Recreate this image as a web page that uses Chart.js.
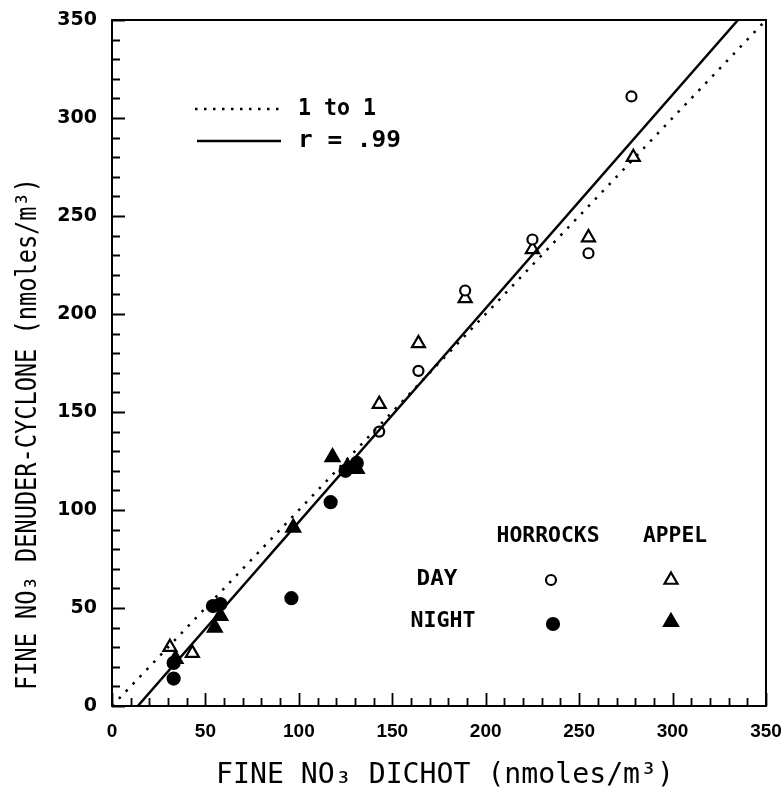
<!DOCTYPE html>
<html>
<head>
<meta charset="utf-8">
<script src="https://cdn.jsdelivr.net/npm/chart.js@4"></script>
<style>
  html, body { margin: 0; padding: 0; background: #fff; }
  #wrap { width: 781px; height: 798px; }
</style>
</head>
<body>
<div id="wrap"><canvas id="chart-no3" width="781" height="798"></canvas></div>
<script>
// ── Data (nmoles/m³) ─────────────────────────────────────────────────────────
const dayHorrocks   = [[143, 140], [164, 171], [189, 212], [225, 238], [255, 231], [278, 311]];
const dayAppel      = [[31, 30], [43, 27], [143, 154], [164, 185], [189, 208], [225, 233], [255, 239], [279, 280]];
const nightHorrocks = [[33, 14], [33, 22], [54, 51], [58, 52], [96, 55], [117, 104], [125, 120], [131, 124]];
const nightAppel    = [[34, 24], [55, 40], [58, 46], [97, 91], [118, 127], [126, 122], [131, 121]];

const oneToOneX = [0, 350];
const oneToOneY = [0, 350];
const fitX      = [13.8, 335];
const fitY      = [0, 350];

const axisMin   = 0;
const axisMax   = 350;
const minorStep = 10;
const majorStep = 50;

const xTitle = 'FINE NO₃ DICHOT (nmoles/m³)';
const yTitle = 'FINE NO₃ DENUDER-CYCLONE (nmoles/m³)';

const toPts = arr => arr.map(([x, y]) => ({ x, y }));
const zipPts = (xs, ys) => xs.map((x, i) => ({ x, y: ys[i] }));

// text helper: optionally squeeze horizontally to a target width
function drawText(ctx, text, x, y, font, align, targetW) {
  ctx.save();
  ctx.font = font;
  ctx.textBaseline = 'middle';
  ctx.textAlign = 'left';
  const w = ctx.measureText(text).width;
  const sx = targetW ? targetW / w : 1;
  let left = x;
  if (align === 'center') left = x - (w * sx) / 2;
  ctx.translate(left, y);
  ctx.scale(sx, 1);
  ctx.fillText(text, 0, 0);
  ctx.restore();
}

// inward ticks, frame, titles and the in-plot keys
const decorations = {
  id: 'decorations',
  afterDraw(chart) {
    const { ctx, chartArea: a, scales: { x, y } } = chart;
    ctx.save();
    ctx.strokeStyle = '#000';
    ctx.fillStyle = '#000';
    ctx.lineWidth = 2;
    ctx.strokeRect(a.left, a.top, a.right - a.left, a.bottom - a.top);

    ctx.lineWidth = 1.8;
    ctx.beginPath();
    for (let v = axisMin; v <= axisMax; v += minorStep) {
      const len = v % majorStep === 0 ? 13 : 8;
      const px = Math.round(x.getPixelForValue(v)) + 0.5;
      ctx.moveTo(px, a.bottom);
      ctx.lineTo(px, a.bottom - len);
      const py = Math.round(y.getPixelForValue(v)) + 0.5;
      ctx.moveTo(a.left, py);
      ctx.lineTo(a.left + len, py);
    }
    ctx.stroke();

    // axis titles
    drawText(ctx, xTitle, 445, 776, '28px "DejaVu Sans Mono"', 'center', 458);
    ctx.save();
    ctx.translate(29, 434);
    ctx.rotate(-Math.PI / 2);
    drawText(ctx, yTitle, 0, 0, '28px "DejaVu Sans Mono"', 'center', 512);
    ctx.restore();

    // line key
    ctx.lineWidth = 2.5;
    ctx.setLineDash([2.5, 6.5]);
    ctx.beginPath();
    ctx.moveTo(195, 109);
    ctx.lineTo(280, 109);
    ctx.stroke();
    ctx.setLineDash([]);
    ctx.lineWidth = 2.5;
    ctx.beginPath();
    ctx.moveTo(197, 141);
    ctx.lineTo(281, 141);
    ctx.stroke();
    drawText(ctx, '1 to 1', 298, 109, 'bold 23px "DejaVu Sans Mono"', 'left', 78);
    drawText(ctx, 'r = .99', 298, 141, 'bold 23px "DejaVu Sans Mono"', 'left', 103);

    // symbol key
    const keyFont = 'bold 21px "DejaVu Sans Mono"';
    drawText(ctx, 'HORROCKS', 548, 537, keyFont, 'center', 103);
    drawText(ctx, 'APPEL', 675, 537, keyFont, 'center', 64);
    drawText(ctx, 'DAY', 437, 580, keyFont, 'center', 41);
    drawText(ctx, 'NIGHT', 443, 622, keyFont, 'center', 65);

    const keys = [
      { style: 'circle',   r: 5,   fill: '#fff', x: 551, y: 580 },
      { style: 'triangle', r: 7.5, fill: '#fff', x: 671, y: 580 },
      { style: 'circle',   r: 6,   fill: '#000', x: 553, y: 624 },
      { style: 'triangle', r: 8,   fill: '#000', x: 671, y: 622 },
    ];
    keys.forEach(k => {
      ctx.fillStyle = k.fill;
      ctx.strokeStyle = '#000';
      ctx.lineWidth = 2.2;
      Chart.helpers.drawPoint(ctx, { pointStyle: k.style, radius: k.r, borderWidth: 2.2 }, k.x, k.y);
    });
    ctx.restore();
  },
};

const pointSet = (label, pts, style, r, fill) => ({
  label,
  data: toPts(pts),
  pointStyle: style,
  pointRadius: r,
  pointHoverRadius: r,
  pointBackgroundColor: fill,
  pointBorderColor: '#000',
  pointBorderWidth: 2.2,
  showLine: false,
});

new Chart(document.getElementById('chart-no3'), {
  type: 'scatter',
  data: {
    datasets: [
      {
        label: '1 to 1',
        data: zipPts(oneToOneX, oneToOneY),
        showLine: true,
        borderColor: '#000',
        borderWidth: 2.5,
        borderDash: [2.5, 7.5],
        pointRadius: 0,
        fill: false,
      },
      {
        label: 'r = .99',
        data: zipPts(fitX, fitY),
        showLine: true,
        borderColor: '#000',
        borderWidth: 2.5,
        pointRadius: 0,
        fill: false,
      },
      pointSet('Horrocks day',   dayHorrocks,   'circle',   5,   '#fff'),
      pointSet('Appel day',      dayAppel,      'triangle', 7.5, '#fff'),
      pointSet('Horrocks night', nightHorrocks, 'circle',   6,   '#000'),
      pointSet('Appel night',    nightAppel,    'triangle', 8,   '#000'),
    ],
  },
  options: {
    responsive: false,
    animation: false,
    layout: { padding: { left: 0, right: 15, top: 20, bottom: 0 } },
    plugins: {
      legend: { display: false },
      tooltip: { enabled: false },
    },
    scales: {
      x: {
        type: 'linear',
        min: axisMin,
        max: axisMax,
        grid: { display: false },
        border: { display: true, color: '#000', width: 2 },
        ticks: {
          stepSize: majorStep,
          color: '#000',
          padding: 6,
          maxRotation: 0,
          font: { family: 'Liberation Sans', weight: 'bold', size: 19 },
        },
        afterFit: s => { s.height = 92; s.paddingLeft = 0; s.paddingRight = 0; },
      },
      y: {
        type: 'linear',
        min: axisMin,
        max: axisMax,
        grid: { display: false },
        border: { display: true, color: '#000', width: 2 },
        ticks: {
          stepSize: majorStep,
          color: '#000',
          padding: 7,
          font: { family: 'DejaVu Sans', weight: 'bold', size: 19 },
        },
        afterFit: s => { s.width = 112; s.paddingTop = 0; s.paddingBottom = 0; },
      },
    },
  },
  plugins: [decorations],
});
</script>
</body>
</html>
